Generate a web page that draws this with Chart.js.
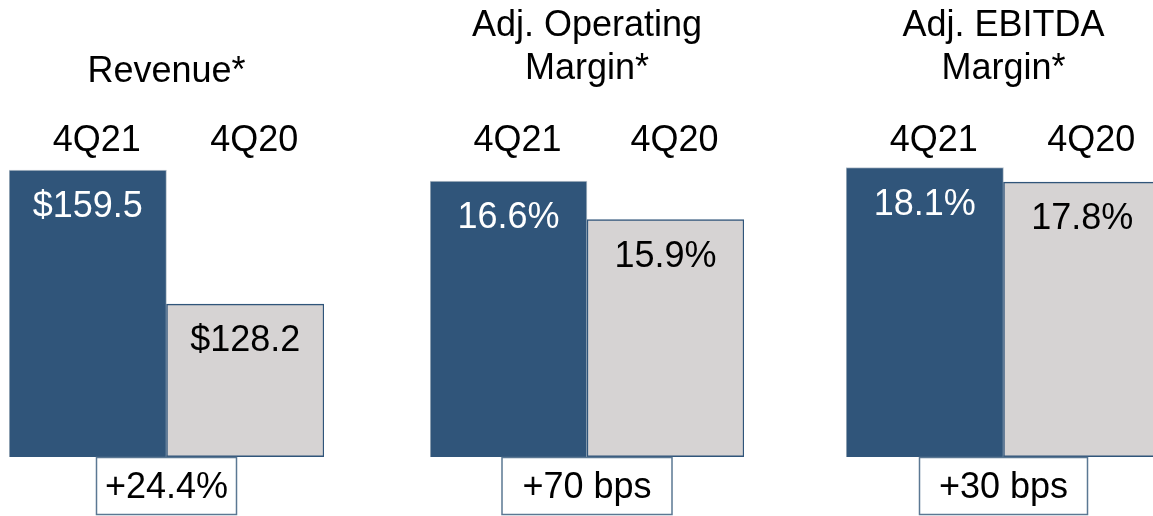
<!DOCTYPE html>
<html>
<head>
<meta charset="utf-8">
<script src="https://cdn.jsdelivr.net/npm/chart.js@4/dist/chart.umd.min.js"></script>
<style>
  html, body { margin: 0; padding: 0; background: #fff; overflow: hidden; }
  body { width: 1153px; height: 516px; position: relative; }
  .panel { position: absolute; top: 0; width: 360px; height: 516px; }
</style>
</head>
<body>
<div class="panel" style="left:0px"><canvas id="revChart"></canvas></div>
<div class="panel" style="left:410px"><canvas id="opChart"></canvas></div>
<div class="panel" style="left:826px"><canvas id="ebitdaChart"></canvas></div>
<script>
const periods = ["4Q21", "4Q20"];
const revenue = [159.5, 128.2];
const opMargin = [16.6, 15.9];
const ebitdaMargin = [18.1, 17.8];
const titles = [["Revenue*"], ["Adj. Operating", "Margin*"], ["Adj. EBITDA", "Margin*"]];
const changes = ["+24.4%", "+70 bps", "+30 bps"];

const DARK = "#30557a";
const GRAY = "#d6d3d3";
const FONT = "'Liberation Sans', Arial, sans-serif";
Chart.defaults.font.family = FONT;

// value labels inside the bars + change box under each pair
const labelPlugin = {
  id: "labels",
  afterDatasetsDraw(chart, args, opts) {
    const ctx = chart.ctx;
    const meta = chart.getDatasetMeta(0);
    ctx.save();
    ctx.font = "36px " + FONT;
    ctx.textAlign = "center";
    ctx.textBaseline = "middle";
    meta.data.forEach((bar, i) => {
      const v = chart.data.datasets[0].data[i];
      ctx.fillStyle = i === 0 ? "#ffffff" : "#000000";
      ctx.fillText(opts.fmt(v), bar.x, bar.y + 37);
    });
    // bottom edge of the bars
    ctx.strokeStyle = DARK;
    ctx.lineWidth = 1.5;
    ctx.beginPath();
    ctx.moveTo(meta.data[1].x - meta.data[1].width / 2, chart.chartArea.bottom - 0.75);
    ctx.lineTo(meta.data[1].x + meta.data[1].width / 2, chart.chartArea.bottom - 0.75);
    ctx.stroke();
    // change box
    const mid = (meta.data[0].x + meta.data[1].x) / 2;
    const bottom = chart.chartArea.bottom;
    const w = opts.boxWidth;
    ctx.fillStyle = "#fff";
    ctx.fillRect(mid - w / 2, bottom, w, 58);
    ctx.strokeStyle = "#5b7893";
    ctx.lineWidth = 1.5;
    ctx.strokeRect(mid - w / 2, bottom + 0.5, w, 57);
    ctx.fillStyle = "#000";
    ctx.fillText(opts.change, mid, bottom + 31);
    ctx.restore();
  }
};

function makeChart(id, values, title, fmt, change, boxWidth, yMin, yMax, pad, titlePad) {
  return new Chart(document.getElementById(id), {
    type: "bar",
    data: {
      labels: periods,
      datasets: [{
        data: values,
        backgroundColor: [DARK, GRAY],
        borderColor: ["#b9c3cd", DARK],
        borderWidth: [1, 1.5],
        borderSkipped: false,
        barPercentage: 1,
        categoryPercentage: 1
      }]
    },
    options: {
      responsive: true,
      maintainAspectRatio: false,
      animation: false,
      layout: { padding: { top: 4, bottom: 59, left: pad[0], right: pad[1] } },
      plugins: {
        legend: { display: false },
        tooltip: { enabled: false },
        title: {
          display: true,
          text: title,
          color: "#000",
          font: { size: 36, weight: "normal", lineHeight: 1.2 },
          padding: titlePad
        },
        labels: { fmt: fmt, change: change, boxWidth: boxWidth }
      },
      scales: {
        x: {
          position: "top",
          grid: { display: false, drawTicks: false },
          border: { display: false },
          ticks: { color: "#000", font: { size: 36 }, padding: 0, labelOffset: 9 },
          afterFit(scale) { scale.height = 50; }
        },
        y: { display: false, min: yMin, max: yMax }
      }
    },
    plugins: [labelPlugin]
  });
}

const money = v => "$" + v.toFixed(1);
const pct = v => v.toFixed(1) + "%";

makeChart("revChart", revenue, titles[0], money, changes[0], 140, 92.46, 161.37, [9, 36], { top: 46, bottom: 19 });
makeChart("opChart", opMargin, titles[1], pct, changes[1], 170, 11.586, 16.94, [20, 26], { top: 0, bottom: 22 });
makeChart("ebitdaChart", ebitdaMargin, titles[2], pct, changes[2], 168, 12.065, 18.21, [20, 25], { top: 0, bottom: 22 });
</script>
</body>
</html>
